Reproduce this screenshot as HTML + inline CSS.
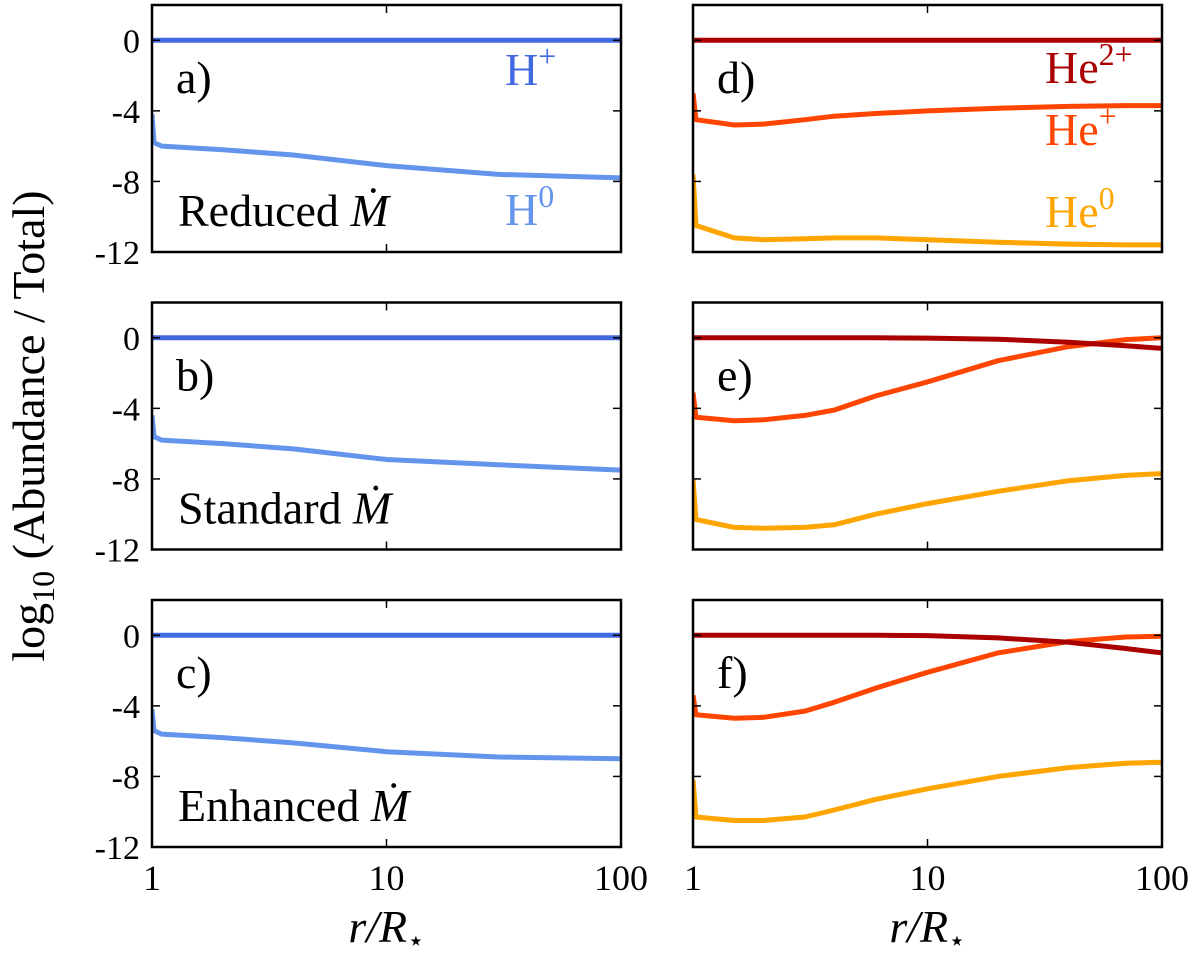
<!DOCTYPE html>
<html><head><meta charset="utf-8"><style>
html,body{margin:0;padding:0;background:#fff;}
svg text{font-family:"Liberation Serif","Times New Roman",Times,"DejaVu Serif",serif;}
</style></head><body>
<svg id="fig" width="1200" height="961" viewBox="0 0 1200 961" xmlns="http://www.w3.org/2000/svg"></svg>
<script>
// ---- data ----
const xTicks = [1, 10, 100];
const xTickLabels = ["1", "10", "100"];
const yTicks = [0, -4, -8, -12];
const yTickLabels = ["0", "-4", "-8", "-12"];
const panelLetters = ["a)", "b)", "c)", "d)", "e)", "f)"];
const rowLabels = ["Reduced", "Standard", "Enhanced"];

const hR = [1, 1.02, 1.1, 2, 4, 10, 30, 100];
const hPlus = [0, 0, 0, 0, 0, 0, 0, 0];
const h0A = [-4.2, -5.8, -6.0, -6.2, -6.5, -7.1, -7.6, -7.8];
const h0B = [-4.4, -5.6, -5.8, -6.0, -6.3, -6.9, -7.2, -7.5];
const h0C = [-4.2, -5.4, -5.6, -5.8, -6.1, -6.6, -6.9, -7.0];

const heR = [1, 1.03, 1.5, 2, 3, 4, 6, 10, 20, 40, 70, 100];
const he2D = [0, 0, 0, 0, 0, 0, 0, 0, 0, 0, 0, 0];
const hepD = [-3.0, -4.5, -4.8, -4.75, -4.5, -4.3, -4.15, -4.0, -3.85, -3.75, -3.7, -3.7];
const he0D = [-7.6, -10.5, -11.2, -11.3, -11.25, -11.2, -11.2, -11.3, -11.45, -11.55, -11.6, -11.6];
const he2E = [0, 0, 0, 0, 0, 0, 0, -0.02, -0.08, -0.25, -0.45, -0.6];
const hepE = [-3.1, -4.5, -4.7, -4.65, -4.4, -4.1, -3.3, -2.5, -1.3, -0.5, -0.1, 0];
const he0E = [-8.0, -10.3, -10.75, -10.8, -10.75, -10.6, -10.0, -9.4, -8.7, -8.1, -7.8, -7.7];
const he2F = [0, 0, 0, 0, 0, 0, 0, -0.02, -0.15, -0.4, -0.75, -1.0];
const hepF = [-3.4, -4.5, -4.7, -4.65, -4.3, -3.8, -3.0, -2.1, -1.0, -0.35, -0.1, -0.05];
const he0F = [-8.2, -10.3, -10.5, -10.5, -10.3, -9.9, -9.3, -8.7, -8.0, -7.5, -7.25, -7.2];

const svg = document.getElementById('fig');
const NS = 'http://www.w3.org/2000/svg';
function mk(tag, attrs, parent) {
  const e = document.createElementNS(NS, tag);
  for (const k in attrs) e.setAttribute(k, attrs[k]);
  if (tag === 'text') e.style.fontFamily = '"Liberation Serif", "Times New Roman", Times, "DejaVu Serif", serif';
  (parent || svg).appendChild(e);
  return e;
}
const colL = 152, colR = 693, PW = 469;
const rowT = [5, 302.5, 600], PH = 247;
function xs(left) { return v => left + Math.log10(v) / 2 * PW; }
function ys(top) { return v => top + (2 - v) / 14 * PH; }

function drawPanel(idx, left, top, series, showYLabels, showXLabels) {
  const g = mk('g', {});
  
  
  const X = xs(left), Y = ys(top);
  const cid = 'clip' + idx;
  const cp = mk('clipPath', {id: cid}, g);
  mk('rect', {x: left, y: top, width: PW, height: PH}, cp);
  series.forEach(s => {
    const d = s.xs.map((v, i) => (i ? 'L' : 'M') + X(v).toFixed(1) + ' ' + Y(s.ys[i]).toFixed(1)).join(' ');
    const p = mk('path', {d: d, fill: 'none', stroke: s.color, 'stroke-width': 5, 'stroke-linejoin': 'round', 'clip-path': 'url(#' + cid + ')'}, g);
    
    
  });
  yTicks.forEach((t, i) => {
    mk('line', {x1: left, x2: left + 8, y1: Y(t), y2: Y(t), stroke: '#000', 'stroke-width': 1.5}, g);
    mk('line', {x1: left + PW - 8, x2: left + PW, y1: Y(t), y2: Y(t), stroke: '#000', 'stroke-width': 1.5}, g);
    if (showYLabels) {
      const tx = mk('text', {x: left - 12, y: Y(t) + 12, 'font-size': 34, 'text-anchor': 'end'}, g);
      tx.textContent = yTickLabels[i];
      
      
    }
  });
  xTicks.forEach((t, i) => {
    mk('line', {x1: X(t), x2: X(t), y1: top, y2: top + 8, stroke: '#000', 'stroke-width': 1.5}, g);
    mk('line', {x1: X(t), x2: X(t), y1: top + PH - 8, y2: top + PH, stroke: '#000', 'stroke-width': 1.5}, g);
    if (showXLabels) {
      const tx = mk('text', {x: X(t), y: top + PH + 43, 'font-size': 36, 'text-anchor': 'middle'}, g);
      tx.textContent = xTickLabels[i];
      
      
    }
  });
  const fr = mk('rect', {x: left, y: top, width: PW, height: PH, fill: 'none', stroke: '#000', 'stroke-width': 2.5}, g);
  
  
  const lt = mk('text', {x: left + 24, y: top + 88, 'font-size': 46}, g);
  lt.textContent = panelLetters[idx];
  
  
  return g;
}

const hBlue = '#4169e1', hLight = '#6495ed', cHe2 = '#aa0000', cHep = '#ff4500', cHe0 = '#ffa500';
const hSets = [h0A, h0B, h0C];
const heSets = [[he2D, hepD, he0D], [he2E, hepE, he0E], [he2F, hepF, he0F]];
for (let r = 0; r < 3; r++) {
  const last = r === 2;
  drawPanel(r, colL, rowT[r], [
    {xs: hR, ys: hSets[r], color: hLight, name: 'h0-line'},
    {xs: hR, ys: hPlus, color: hBlue, name: 'hplus-line'}
  ], true, last);
  drawPanel(r + 3, colR, rowT[r], [
    {xs: heR, ys: heSets[r][2], color: cHe0, name: 'he0-line'},
    {xs: heR, ys: heSets[r][1], color: cHep, name: 'heplus-line'},
    {xs: heR, ys: heSets[r][0], color: cHe2, name: 'he2plus-line'}
  ], false, last);
  const rl = mk('text', {x: colL + 26, y: rowT[r] + 221, 'font-size': 46});
  rl.innerHTML = rowLabels[r] + ' <tspan font-style="italic">Ṁ</tspan>';
  
  
}
function lab(x, y, base, sup, color, name) {
  const t = mk('text', {x: x, y: y, 'font-size': 46, fill: color});
  t.innerHTML = base + '<tspan dy="-18" font-size="32">' + sup + '</tspan>';
  
  
}
lab(505, 85, 'H', '+', hBlue, 'hplus-label');
lab(505, 225, 'H', '0', hLight, 'h0-label');
lab(1045, 83, 'He', '2+', cHe2, 'he2plus-label');
lab(1045, 145, 'He', '+', cHep, 'heplus-label');
lab(1045, 227, 'He', '0', cHe0, 'he0-label');

const yl = mk('text', {x: 0, y: 0, 'font-size': 46, 'text-anchor': 'middle', transform: 'translate(44,426) rotate(-90)'});
yl.innerHTML = 'log<tspan dy="10" font-size="32">10</tspan><tspan dy="-10"> (Abundance / Total)</tspan>';


[colL, colR].forEach(l => {
  const t = mk('text', {x: l + PW / 2, y: 942, 'font-size': 46, 'text-anchor': 'middle', 'font-style': 'italic'});
  t.innerHTML = 'r/R<tspan dy="8" font-size="28" font-style="normal">⋆</tspan>';
  
  
});
</script>
</body></html>
